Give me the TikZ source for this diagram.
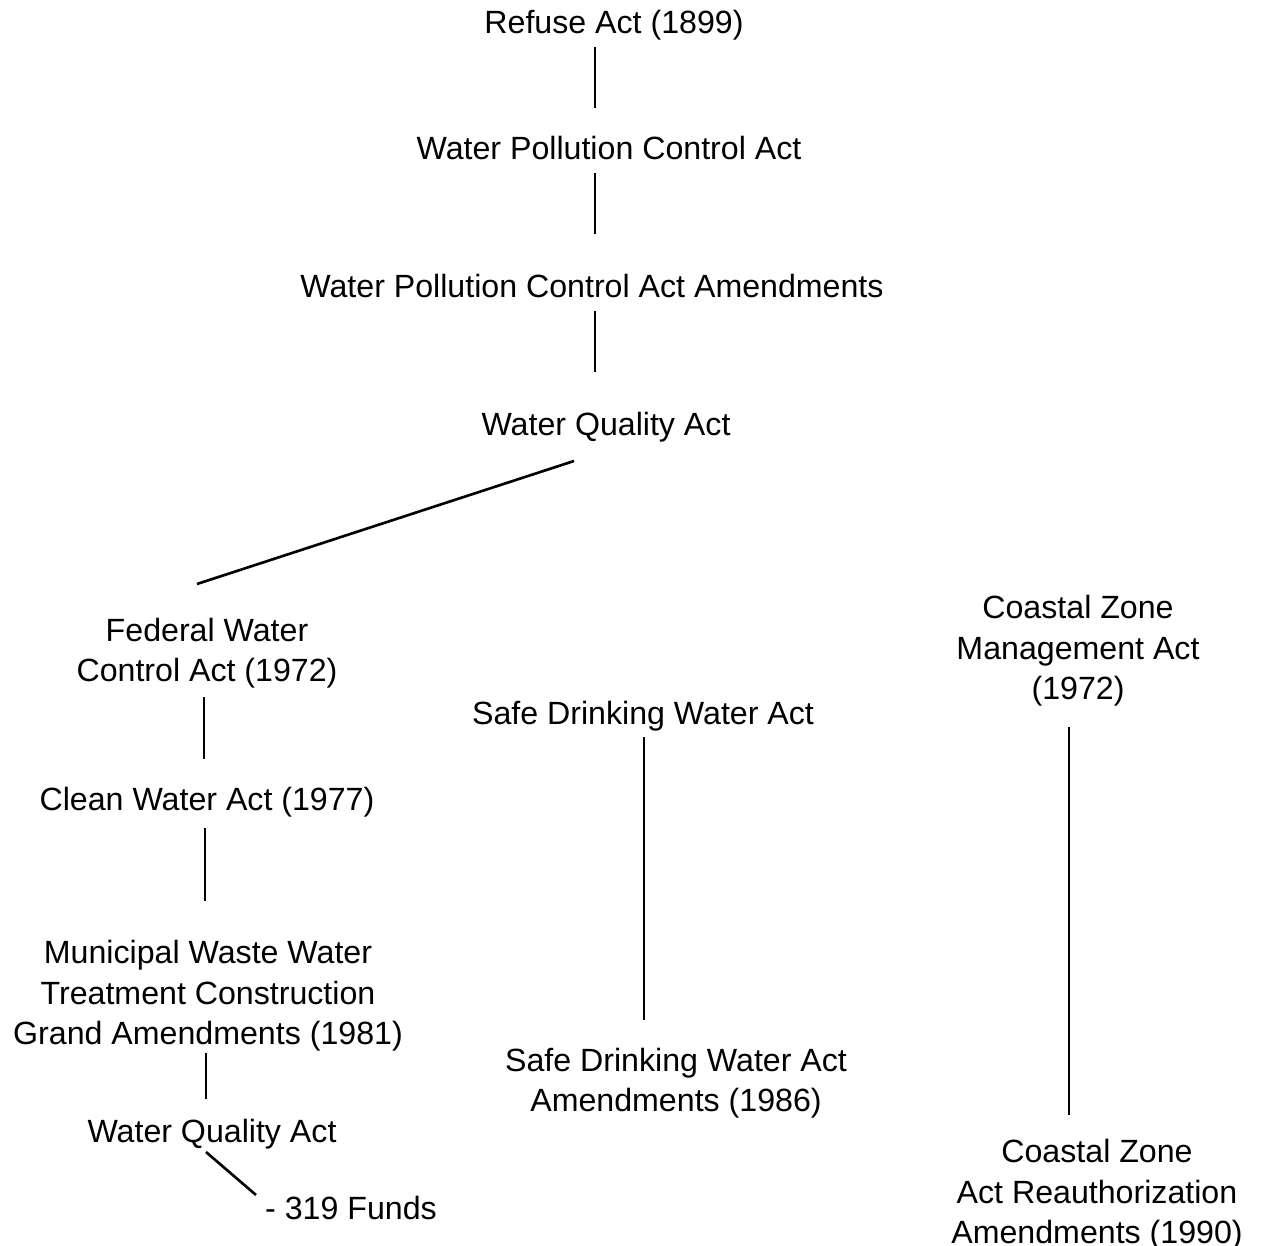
\documentclass[tikz,border=0pt]{standalone}
\usepackage{fontspec}
\setmainfont{Liberation Sans}
\begin{document}
\begin{tikzpicture}[x=0.02cm,y=-0.02cm,
  act/.style={inner sep=0pt,align=center,font=\fontsize{18.3}{23}\selectfont},
  link/.style={line width=1.5pt}]
\useasboundingbox (0,0) rectangle (1267,1246);
% nodes
\node[act] (refuse) at (614,25) {Refuse Act (1899)};
\node[act] (wpca) at (609,148) {Water Pollution Control Act};
\node[act] (wpcaa) at (592,286) {Water Pollution Control Act Amendments};
\node[act] (wqa) at (606,427) {Water Quality Act};
\node[act] (fwca) at (207,653) {Federal Water\\Control Act (1972)};
\node[act] (cwa) at (207,802) {Clean Water Act (1977)};
\node[act] (mww) at (208,996) {Municipal Waste Water\\Treatment Construction\\Grand Amendments (1981)};
\node[act] (wqa2) at (212,1134) {Water Quality Act};
\node[act] (funds) at (351,1208) {- 319 Funds};
\node[act] (sdwa) at (643,716) {Safe Drinking Water Act};
\node[act] (sdwaa) at (676,1083) {Safe Drinking Water Act\\Amendments (1986)};
\node[act] (czma) at (1078,651) {Coastal Zone\\Management Act\\(1972)};
\node[act] (czar) at (1097,1195) {Coastal Zone\\Act Reauthorization\\Amendments (1990)};
% connector ends
\coordinate (c1a) at (595,47);   \coordinate (c1b) at (595,108);
\coordinate (c2a) at (595,173);  \coordinate (c2b) at (595,234);
\coordinate (c3a) at (595,311);  \coordinate (c3b) at (595,372);
\coordinate (c4a) at (574,461);  \coordinate (c4b) at (197,584);
\coordinate (c5a) at (204,697);  \coordinate (c5b) at (204,759);
\coordinate (c6a) at (205,828);  \coordinate (c6b) at (205,901);
\coordinate (c7a) at (206,1053); \coordinate (c7b) at (206,1099);
\coordinate (c8a) at (206,1152); \coordinate (c8b) at (256,1195);
\coordinate (c9a) at (644,737);  \coordinate (c9b) at (644,1020);
\coordinate (c10a) at (1069,727); \coordinate (c10b) at (1069,1115);
% connectors
\draw[link] (c1a) -- (c1b);
\draw[link] (c2a) -- (c2b);
\draw[link] (c3a) -- (c3b);
\draw[link] (c4a) -- (c4b);
\draw[link] (c5a) -- (c5b);
\draw[link] (c6a) -- (c6b);
\draw[link] (c7a) -- (c7b);
\draw[link] (c8a) -- (c8b);
\draw[link] (c9a) -- (c9b);
\draw[link] (c10a) -- (c10b);
\end{tikzpicture}
\end{document}
